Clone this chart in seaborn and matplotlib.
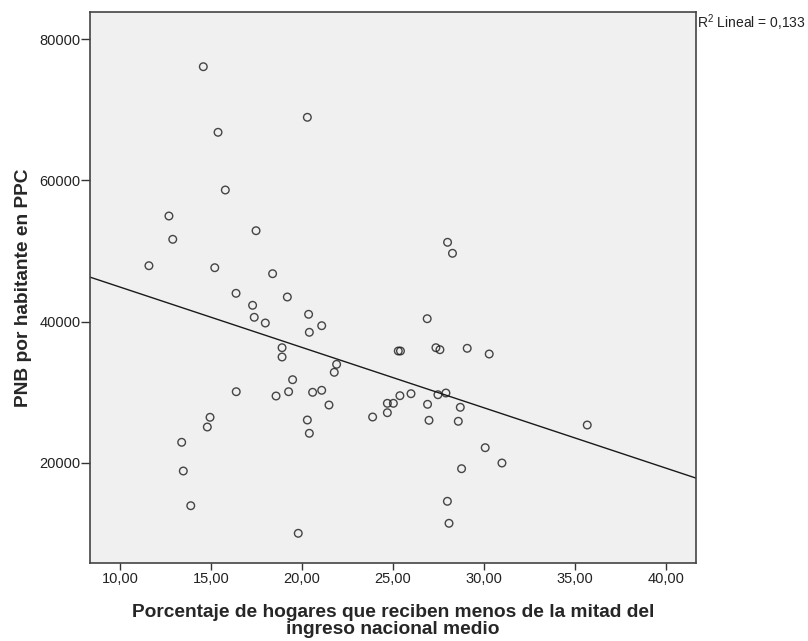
import numpy as np
import pandas as pd
import matplotlib
matplotlib.use("Agg")
import matplotlib.pyplot as plt
import seaborn as sns
from matplotlib.ticker import FixedLocator, FixedFormatter

# ---- data ----
hogares = [
    14.58, 20.30, 15.39, 15.79, 12.69, 12.90, 17.48, 11.59, 15.21, 18.39,
    16.38, 19.20, 17.29, 20.37, 17.38, 17.99, 21.09,
    20.41, 18.91, 18.91, 21.91, 21.78, 19.49, 16.39, 19.27, 20.59, 21.09,
    18.58, 21.49, 23.89, 24.70, 25.03, 24.70, 25.39, 20.30, 20.41, 14.95,
    14.80, 13.39, 13.48, 13.89, 19.80, 25.30, 25.42,
    26.89, 27.37, 27.59, 29.09, 30.30, 26.00, 27.48, 27.92, 26.91, 28.71,
    26.99, 28.60, 35.69, 30.08, 31.00, 28.78, 28.00, 28.09,
    28.01, 28.28,
]
pnb = [
    76080, 68919, 66796, 58630, 54950, 51653, 52870, 47917, 47634, 46785,
    44010, 43487, 42312, 41038, 40614, 39807, 39426,
    38491, 36312, 34996, 33963, 32830, 31783, 30085, 30085, 30000, 30283,
    29476, 28202, 26504, 28443, 28443, 27113, 29519, 26080, 24198, 26462,
    25089, 22924, 18862, 13951, 10045, 35845, 35845,
    40416, 36312, 36029, 36227, 35420, 29802, 29660, 29901, 28301, 27877,
    26037, 25896, 25372, 22160, 19994, 19188, 14574, 11460,
    51229, 49672,
]
x_ticks = [10, 15, 20, 25, 30, 35, 40]
x_tick_labels = ["10,00", "15,00", "20,00", "25,00", "30,00", "35,00", "40,00"]
y_ticks = [20000, 40000, 60000, 80000]
y_tick_labels = ["20000", "40000", "60000", "80000"]
x_label = "Porcentaje de hogares que reciben menos de la mitad del\ningreso nacional medio"
y_label = "PNB por habitante en PPC"
r2_text = "R$^2$ Lineal = 0,133"

df = pd.DataFrame({"hogares": hogares, "pnb": pnb})

sns.set_style("white")
plt.rcParams["font.family"] = ["Liberation Sans", "DejaVu Sans"]
plt.rcParams["mathtext.fontset"] = "custom"
plt.rcParams["mathtext.rm"] = "Liberation Sans"
plt.rcParams["mathtext.it"] = "Liberation Sans"

fig = plt.figure(figsize=(8.08, 6.41), dpi=100)
ax = fig.add_axes([90 / 808, 1 - 562.7 / 641, (696 - 90) / 808, (562.7 - 12.3) / 641])
ax.set_facecolor("#f0f0f0")
ax.set_xlim(8.35, 41.67)
ax.set_ylim(5885, 83779)

sns.regplot(
    data=df, x="hogares", y="pnb", ax=ax, ci=None, truncate=False,
    scatter_kws=dict(s=30, facecolors="none", edgecolors="#1a1a1a", linewidths=1.0),
    line_kws=dict(color="#1a1a1a", linewidth=1.0),
)
ax.set_xlim(8.35, 41.67)
ax.set_ylim(5885, 83779)

ax.xaxis.set_major_locator(FixedLocator(x_ticks))
ax.xaxis.set_major_formatter(FixedFormatter(x_tick_labels))
ax.yaxis.set_major_locator(FixedLocator(y_ticks))
ax.yaxis.set_major_formatter(FixedFormatter(y_tick_labels))
ax.tick_params(axis="x", which="major", direction="out", length=5, width=1,
               color="#333333", labelsize=10.5, labelcolor="#222222", pad=2)
ax.tick_params(axis="y", which="major", direction="out", length=6.5, width=1,
               color="#333333", labelsize=10.5, labelcolor="#222222", pad=0.5)
ax.tick_params(top=False, right=False, bottom=True, left=True)

for sp in ax.spines.values():
    sp.set_visible(True)
    sp.set_color("#444444")
    sp.set_linewidth(1.2)

ax.set_xlabel(x_label, fontsize=13.8, fontweight="bold", labelpad=13, linespacing=1.0)
ax.set_ylabel(y_label, fontsize=13.8, fontweight="bold", labelpad=5)

fig.text(697 / 808, 1 - 23 / 641, r2_text, fontsize=10, va="center", ha="left", color="#222222")

fig.savefig("out.png", dpi=100, facecolor="white")
